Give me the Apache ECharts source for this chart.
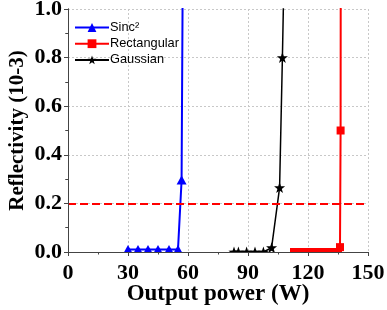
<!DOCTYPE html>
<html>
<head>
<meta charset="utf-8">
<script src="https://cdn.jsdelivr.net/npm/echarts@6/dist/echarts.min.js"></script>
<style>
html,body{margin:0;padding:0;background:#fff;}
#c{width:387px;height:310px;}
</style>
</head>
<body>
<div id="c"></div>
<script>
// ---- data ----
const sincX = [30, 35, 40, 45, 50.5, 55, 56.8, 57.6];
const sincY = [0.01, 0.01, 0.01, 0.01, 0.01, 0.01, 0.296, 1.5];
const rectX = [113, 115, 117, 119, 121, 123, 125, 127, 129, 131, 133, 135, 136, 136.3, 136.4];
const rectY = [0, 0, 0, 0, 0, 0, 0, 0, 0, 0, 0, 0, 0.02, 0.5, 1.5];
const gaussX = [83, 85.2, 89.3, 93.5, 97.7, 101.8, 105.8, 107.2, 108.6];
const gaussY = [0, 0, 0, 0, 0, 0.018, 0.265, 0.8, 1.4];
const threshold = 0.2;
const seriesNames = ['Sinc\u00B2', 'Rectangular', 'Gaussian'];
const xTicks = {min: 0, max: 150, interval: 30};
const yTicks = {min: 0, max: 1, interval: 0.2};

function pairs(xs, ys){ return xs.map((x,i)=>[x, ys[i]]); }

const chart = echarts.init(document.getElementById('c'), null, {renderer:'canvas'});
const serif = '"Liberation Serif", "Times New Roman", serif';
const axisColor = '#444';
const gridColor = '#c8c8c8';
const grid = {left: 68, right: 19, top: 9, bottom: 58, containLabel: false, outerBoundsMode: 'none'};

const option = {
  animation: false,
  backgroundColor: '#fff',
  grid: grid,
  legend: {
    left: 69, top: 16, orient: 'vertical',
    itemWidth: 34, itemHeight: 11, itemGap: 3.2,
    data: seriesNames,
    textStyle: {fontFamily: '"Liberation Sans", Arial, sans-serif', fontSize: 12.8, color: '#000', padding: [0,0,0,-4]}
  },
  xAxis: [{
    type: 'value', min: xTicks.min, max: xTicks.max, interval: xTicks.interval, z: 10,
    name: 'Output power (W)', nameLocation: 'middle', nameGap: 31, nameMoveOverlap: false,
    nameTextStyle: {fontFamily: serif, fontWeight: 'bold', fontSize: 23, color: '#000'},
    axisLine: {show: true, onZero: false, lineStyle: {color: axisColor, width: 1}},
    axisTick: {show: true, inside: false, length: 4, lineStyle: {color: axisColor}},
    minorTick: {show: true, splitNumber: 2, length: 2.5, lineStyle: {color: axisColor}},
    axisLabel: {fontFamily: serif, fontWeight: 'bold', fontSize: 22, color: '#000', margin: 10},
    splitLine: {show: false}
  }, {
    type: 'value', position: 'top', min: xTicks.min, max: xTicks.max, interval: xTicks.interval, z: 0,
    axisLine: {show: true, lineStyle: {color: axisColor, width: 1}},
    axisTick: {show: true, inside: true, length: 4, lineStyle: {color: axisColor}},
    minorTick: {show: true, splitNumber: 2, length: 2.5, lineStyle: {color: axisColor}},
    axisLabel: {show: false},
    splitLine: {show: true, lineStyle: {color: gridColor, type: [2,2], width: 1}}
  }],
  yAxis: [{
    type: 'value', min: yTicks.min, max: yTicks.max, interval: yTicks.interval, z: 10,
    name: 'Reflectivity (10-3)', nameLocation: 'middle', nameGap: 40, nameRotate: 90, nameMoveOverlap: false,
    nameTextStyle: {fontFamily: serif, fontWeight: 'bold', fontSize: 21, color: '#000'},
    axisLine: {show: true, onZero: false, lineStyle: {color: axisColor, width: 1}},
    axisTick: {show: true, inside: false, length: 4, lineStyle: {color: axisColor}},
    minorTick: {show: true, splitNumber: 2, length: 2.5, lineStyle: {color: axisColor}},
    axisLabel: {fontFamily: serif, fontWeight: 'bold', fontSize: 22, color: '#000', margin: 6,
      formatter: v => v.toFixed(1)},
    splitLine: {show: false}
  }, {
    type: 'value', position: 'right', min: yTicks.min, max: yTicks.max, interval: yTicks.interval, z: 0,
    axisLine: {show: true, lineStyle: {color: axisColor, width: 1}},
    axisTick: {show: true, inside: true, length: 4, lineStyle: {color: axisColor}},
    minorTick: {show: true, splitNumber: 2, length: 2.5, lineStyle: {color: axisColor}},
    axisLabel: {show: false},
    splitLine: {show: true, lineStyle: {color: gridColor, type: [2,2], width: 1}}
  }],
  graphic: [{
    type: 'rect', z: 5, silent: true,
    shape: {x: grid.left - 6, y: 310 - grid.bottom + 1, width: 387 - grid.left - grid.right + 12, height: 7},
    style: {fill: '#fff'}
  }],
  series: [
    {
      name: seriesNames[0], type: 'line', z: 3, data: pairs(sincX, sincY),
      symbol: 'triangle', symbolSize: [10, 9],
      lineStyle: {color: '#0000ff', width: 2}, itemStyle: {color: '#0000ff'}
    },
    {
      name: seriesNames[1], type: 'line', z: 3, data: pairs(rectX, rectY),
      symbol: 'rect', symbolSize: 8,
      lineStyle: {color: '#ff0000', width: 2}, itemStyle: {color: '#ff0000'},
      markLine: {
        silent: true, symbol: 'none', label: {show: false},
        lineStyle: {color: '#ff0000', width: 2, type: [8, 4], opacity: 1},
        emphasis: {disabled: true},
        data: [{yAxis: threshold}]
      }
    },
    {
      name: seriesNames[2], type: 'line', z: 4, data: pairs(gaussX, gaussY),
      symbol: 'path://M0,-10 L2.35,-3.24 L9.51,-3.09 L3.8,1.24 L5.88,8.09 L0,4 L-5.88,8.09 L-3.8,1.24 L-9.51,-3.09 L-2.35,-3.24 Z',
      symbolSize: 11,
      lineStyle: {color: '#000', width: 1.5}, itemStyle: {color: '#000'}
    }
  ]
};
chart.setOption(option);
</script>
</body>
</html>
